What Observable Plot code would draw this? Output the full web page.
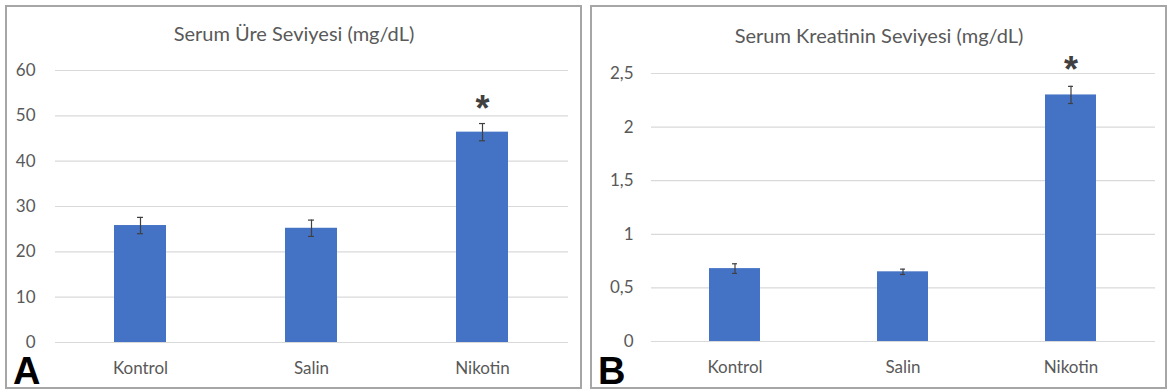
<!DOCTYPE html>
<html>
<head>
<meta charset="utf-8">
<script src="https://cdn.jsdelivr.net/npm/d3@7"></script>
<script src="https://cdn.jsdelivr.net/npm/@observablehq/plot@0.6"></script>
<style>
  html, body { margin: 0; padding: 0; background: #fff; }
  body { width: 1171px; height: 392px; position: relative; overflow: hidden; font-family: Lato, "Open Sans", sans-serif; }
  .panel { position: absolute; top: 5px; width: 573px; height: 380px; border: 2px solid #a6a6a6; background: #fff; }
  .panel svg { position: absolute; left: 0; top: 0; }
  .letter { position: absolute; left: 6px; bottom: 2px; font-family: "Liberation Sans", Arial, sans-serif; font-weight: bold; font-size: 38px; line-height: 28px; height: 28px; color: #000; }
</style>
</head>
<body>
<div class="panel" id="pa" style="left:5px"></div>
<div class="panel" id="pb" style="left:590px"></div>
<script>
const categories = ["Kontrol", "Salin", "Nikotin"];
const ureValues = [25.8, 25.2, 46.4];
const ureErrors = [1.8, 1.8, 1.9];
const kreValues = [0.68, 0.65, 2.30];
const kreErrors = [0.045, 0.025, 0.08];
const significant = [false, false, true];
const ureTicks = [0, 10, 20, 30, 40, 50, 60];
const kreTicks = [0, 0.5, 1, 1.5, 2, 2.5];
const ureTitle = "Serum Üre Seviyesi (mg/dL)";
const kreTitle = "Serum Kreatinin Seviyesi (mg/dL)";
const panelLetters = ["A", "B"];

const barColor = "#4472C4";
const textColor = "#595959";
const fontFamily = "Lato, 'Open Sans', sans-serif";

function makeChart({values, errors, ticks, title, domainMax, margins, tickPad, starDy, titleTop}) {
  const data = categories.map((c, i) => ({cat: c, v: values[i], e: errors[i], sig: significant[i]}));
  const fmt = d => String(d).replace(".", ",");
  return Plot.plot({
    width: 573,
    height: 380,
    marginLeft: margins[0],
    marginRight: margins[1],
    marginTop: margins[2],
    marginBottom: margins[3],
    style: {fontFamily, fontSize: "17px", color: textColor, background: "transparent"},
    x: {domain: categories, paddingInner: 0.695, paddingOuter: 0.3475, label: null, tickSize: 0, tickPadding: 19},
    y: {domain: [0, domainMax], ticks, tickFormat: fmt, label: null, tickSize: 0, tickPadding: tickPad},
    marks: [
      Plot.ruleY(ticks, {stroke: "#d9d9d9", strokeWidth: 1.2}),
      Plot.barY(data, {x: "cat", y: "v", fill: barColor}),
      Plot.ruleX(data, {x: "cat", y1: d => d.v - d.e, y2: d => d.v + d.e, stroke: "#404040", strokeWidth: 1.2}),
      Plot.tickY(data, {x: "cat", y: d => d.v + d.e, stroke: "#404040", strokeWidth: 1.2, insetLeft: 23, insetRight: 23}),
      Plot.tickY(data, {x: "cat", y: d => d.v - d.e, stroke: "#404040", strokeWidth: 1.2, insetLeft: 23, insetRight: 23}),
      Plot.text(data.filter(d => d.sig), {x: "cat", y: d => d.v + d.e, text: () => "*", fontSize: 36, fontWeight: "bold", fill: "#404040", dy: starDy, fontFamily: "'Liberation Sans', sans-serif"}),
      Plot.text([title], {frameAnchor: "top", text: d => d, dx: (margins[1] - margins[0]) / 2, dy: -(margins[2] - titleTop), fontSize: 20, fill: textColor})
    ]
  });
}

const pa = document.getElementById("pa");
const pb = document.getElementById("pb");
pa.appendChild(makeChart({
  values: ureValues, errors: ureErrors, ticks: ureTicks, title: ureTitle, domainMax: 60,
  margins: [48, 12, 63, 45], tickPad: 20, starDy: -14, titleTop: 19
}));
pb.appendChild(makeChart({
  values: kreValues, errors: kreErrors, ticks: kreTicks, title: kreTitle, domainMax: 2.5,
  margins: [59, 10, 66, 46], tickPad: 18, starDy: -16, titleTop: 21
}));
[pa, pb].forEach((p, i) => {
  const d = document.createElement("div");
  d.className = "letter";
  d.textContent = panelLetters[i];
  p.appendChild(d);
});
</script>
</body>
</html>
